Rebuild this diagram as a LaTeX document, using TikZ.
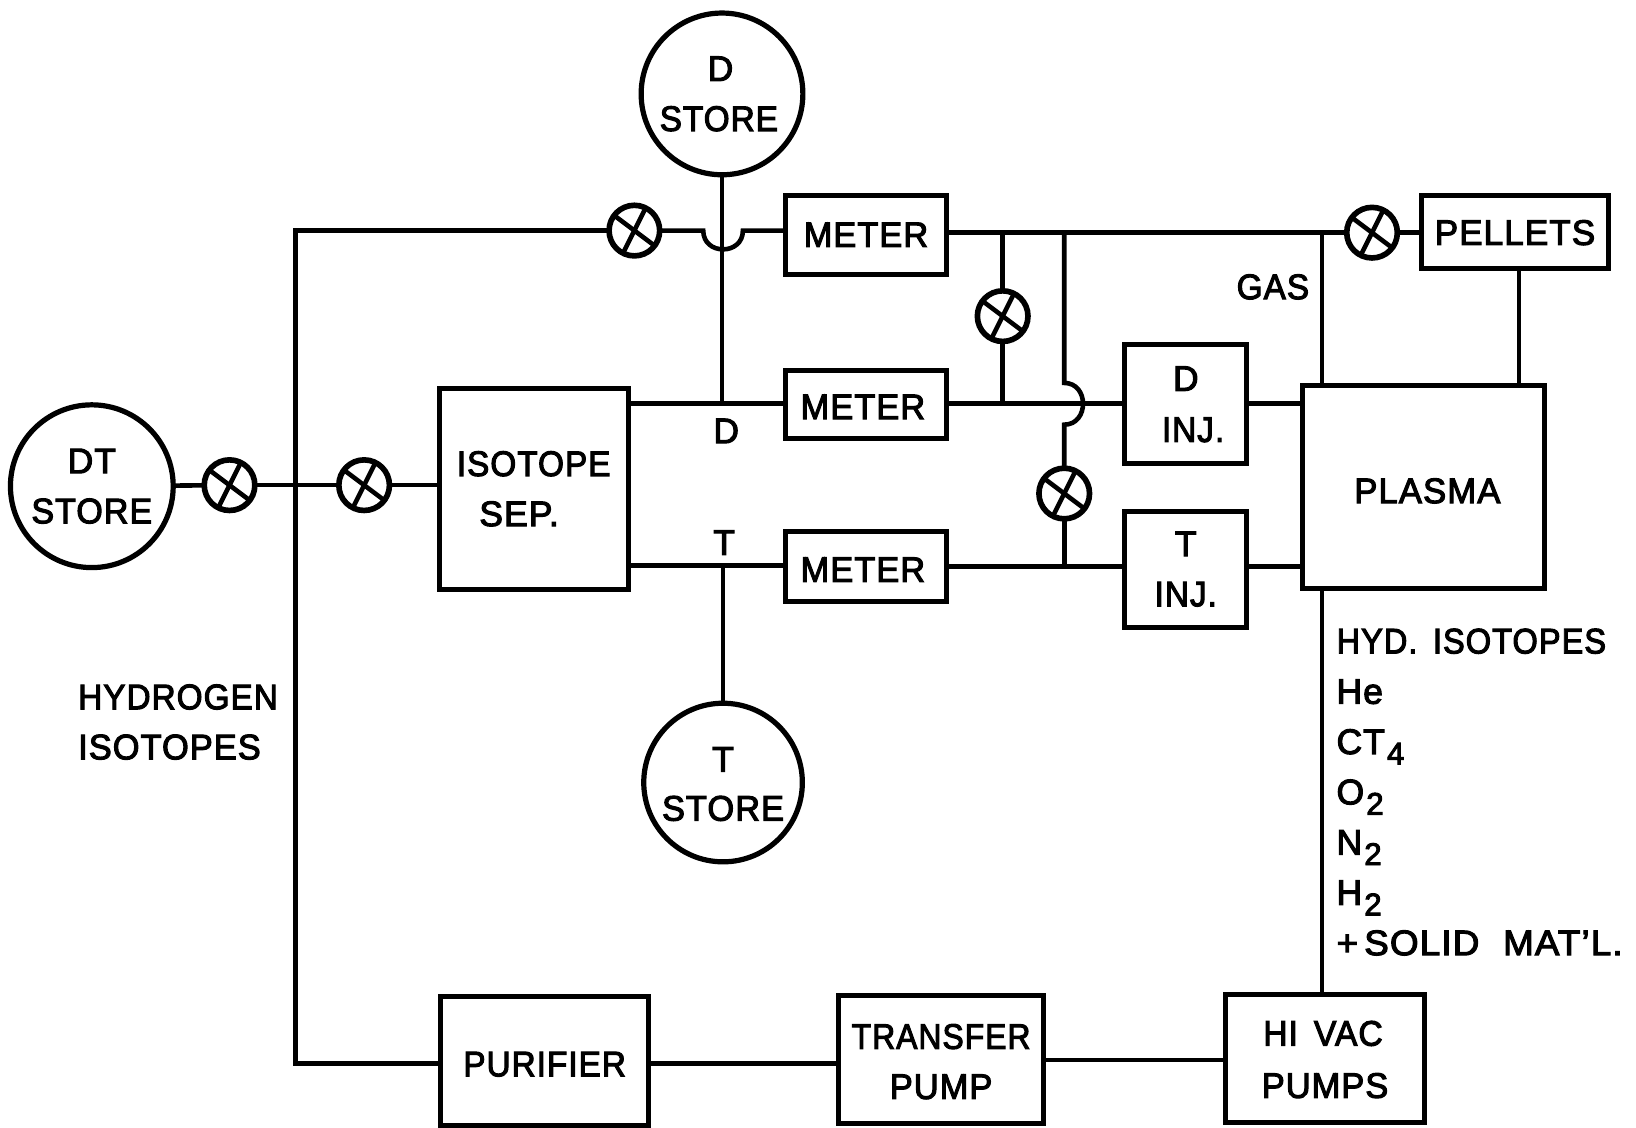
\documentclass[tikz,border=0pt]{standalone}
\usepackage{fontspec}
\setmainfont[LetterSpace=3,RawFeature={embolden=3}]{Liberation Sans}
\usetikzlibrary{calc}
\newcommand{\sbs}[1]{\hspace{2pt}\raisebox{-10pt}[0pt][0pt]{\fontsize{30}{30}\selectfont #1}}
\newcommand{\dn}[3][1]{\raisebox{-#2pt}[\height][\depth]{\scalebox{#1}[1]{#3}}}
\tikzset{
  wire/.style={line width=4.4pt},
  lbl/.style={font=\fontsize{34}{48}\selectfont, inner sep=0pt, outer sep=0pt, align=center, text=black},
  box/.style={draw, line width=4.8pt, rectangle, inner sep=0pt, outer sep=0pt, lbl},
  store/.style={draw, line width=5pt, circle, inner sep=0pt, outer sep=0pt, lbl},
  valve/.style={draw, line width=5.4pt, circle, inner sep=0pt, outer sep=0pt, minimum size=48.5pt,
    path picture={
      \draw[line width=4.4pt] (path picture bounding box.center) ++(-24,-18) -- ++(48,36);
      \draw[line width=4.4pt] (path picture bounding box.center) ++(12,-24) -- ++(-24,48);
    }},
}
\begin{document}
\begin{tikzpicture}[x=1pt,y=-1pt]
\useasboundingbox (0,0) rectangle (1568,1081);
% stores
\node[store, minimum size=155pt] (dstore) at (692,90) {\hspace*{-3pt}D\\\hspace*{-6pt}\dn[0.94]{0}{STORE}};
\node[store, minimum size=156pt] (dtstore) at (88,466) {DT\\\dn[0.96]{0}{STORE}};
\node[store, minimum size=152pt] (tstore) at (693,750) {\dn{2}{T}\\\dn[0.97]{1}{STORE}};
% boxes
\node[box, minimum width=154pt, minimum height=76pt] (meterA) at (830,225) {\dn[0.97]{0}{METER}};
\node[box, minimum width=154pt, minimum height=65pt] (meterB) at (830,388) {\hspace*{-6pt}\dn[0.97]{2}{METER}};
\node[box, minimum width=154pt, minimum height=67pt] (meterC) at (830,543) {\hspace*{-6pt}\dn[0.97]{3}{METER}};
\node[box, minimum width=181pt, minimum height=193pt] (sep) at (511.5,468.5) {\dn[0.94]{0}{ISOTOPE}\\SEP.\hspace*{28pt}};
\node[box, minimum width=117pt, minimum height=114pt] (dinj) at (1136.5,387) {D\\\hspace*{14pt}\dn[0.94]{1}{INJ.}};
\node[box, minimum width=117pt, minimum height=111pt] (tinj) at (1136.5,545.5) {T\\\dn[0.94]{0}{INJ.}};
\node[box, minimum width=232pt, minimum height=195pt] (plasma) at (1364,466.5) {\hspace*{8pt}\dn[0.98]{4}{PLASMA}};
\node[box, minimum width=180pt, minimum height=70pt] (pellets) at (1452,222) {\dn[0.99]{1}{PELLETS}};
\node[box, minimum width=200pt, minimum height=124pt] (purifier) at (522,1017) {\dn[0.94]{3}{PURIFIER}};
\node[box, minimum width=196pt, minimum height=123pt] (transfer) at (902,1015.5) {\dn[0.9]{2}{TRANSFER}\\\dn[0.97]{2}{PUMP}};
\node[box, minimum width=190pt, minimum height=123pt] (hivac) at (1270,1014.5) {\hspace*{-4pt}\dn[0.95]{0}{HI\, VAC}\\\dn[0.97]{2}{PUMPS}};
% valves
\node[valve] (vA) at (608,221) {};
\node[valve] (vB) at (220,465) {};
\node[valve] (vC) at (349,465) {};
\node[valve] (vD) at (961,303) {};
\node[valve] (vE) at (1020,473) {};
\node[valve] (vF) at (1315,223) {};
% junction and free-end coordinates
\coordinate (corTop) at (283,221);
\coordinate (corBot) at (283,1019);
\coordinate (jumpAin) at (674,221);
\coordinate (jumpAout) at (712,221);
\coordinate (jD) at (692,387);
\coordinate (jT) at (693,542);
\coordinate (tapA) at (961,223);
\coordinate (tapB) at (1020,223);
\coordinate (tapC) at (1267,223);
\coordinate (tapD) at (961,387);
\coordinate (jumpBin) at (1020,367);
\coordinate (jumpBout) at (1020,407);
\coordinate (tapE) at (1020,543);
\coordinate (pelDown) at (1456,257);
\coordinate (lowRun) at (1000,1016);
% connectors
\draw[wire, line cap=rect] (corBot) -- (corTop) -- (vA);
\draw[wire] (vA) -- (jumpAin) .. controls (674,245) and (712,245) .. (jumpAout) -- (meterA.west |- jumpAout);
\draw[wire] (dstore) -- (jD);
\draw[wire] (sep.east |- jD) -- (jD) -- (meterB.west |- jD);
\draw[wire] (sep.east |- jT) -- (jT) -- (meterC.west |- jT);
\draw[wire] (jT) -- (tstore);
\draw[wire] (dtstore) -- (vB);
\draw[wire] (vB) -- (vC);
\draw[wire] (vC) -- (sep.west |- vC);
\draw[wire] (meterA.east |- tapA) -- (vF);
\draw[wire] (vF) -- (pellets.west |- vF);
\draw[wire] (tapA) -- (vD);
\draw[wire] (vD) -- (tapD);
\draw[wire] (tapB) -- (jumpBin) .. controls (1044,367) and (1044,407) .. (jumpBout) -- (vE);
\draw[wire] (vE) -- (tapE);
\draw[wire] (meterB.east |- tapD) -- (dinj.west |- tapD);
\draw[wire] (meterC.east |- tapE) -- (tinj.west |- tapE);
\draw[wire] (dinj.east |- tapD) -- (plasma.west |- tapD);
\draw[wire] (tinj.east |- tapE) -- (plasma.west |- tapE);
\draw[wire] (tapC) -- (plasma.north -| tapC);
\draw[wire] (pellets.south -| pelDown) -- (plasma.north -| pelDown);
\draw[wire] (plasma.south -| tapC) -- (hivac.north -| tapC);
\draw[wire, line cap=rect] (purifier.west |- corBot) -- (corBot);
\draw[wire] (purifier.east |- corBot) -- (transfer.west |- corBot);
\draw[wire] (transfer.east |- lowRun) -- (hivac.west |- lowRun);
% labels
\node[lbl] (gas) at (1220,275) {\dn[0.94]{0}{GAS}};
\node[lbl] (labD) at (696,413) {D};
\node[lbl] (labT) at (694,520) {T};
\node[lbl, align=left, anchor=north west] (hyd) at (75,656) {\scalebox{0.94}[1]{HYDROGEN}\\\scalebox{0.97}[1]{ISOTOPES}};
\node[lbl, align=left, anchor=north west, font=\fontsize{34}{48.2}\selectfont] (gases) at (1281,602.5) {\scalebox{0.92}[1]{HYD.\, ISOTOPES}\\He\\CT\sbs{4}\\O\sbs{2}\\N\sbs{2}\\H\sbs{2}\\\scalebox{1.04}[1]{+\,SOLID\,\, MAT'L.}};
\end{tikzpicture}
\end{document}
